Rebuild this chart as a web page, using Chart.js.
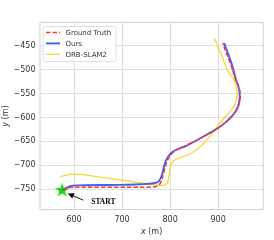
<!DOCTYPE html>
<html>
<head>
<meta charset="utf-8">
<script src="https://cdn.jsdelivr.net/npm/chart.js@4/dist/chart.umd.min.js"></script>
<style>
  html, body { margin: 0; padding: 0; background: #fff; }
  #wrap { width: 274px; height: 240px; }
</style>
</head>
<body>
<div id="wrap"><canvas id="traj"></canvas></div>
<script>
// trajectory points, [x, y] in metres
const groundTruth = [
  [575.7, -751.5], [591.7, -746.2], [654, -745.8], [758, -745.2], [772.6, -743.1],
  [780.9, -734.8], [787.1, -713.9], [793.3, -693], [799.6, -680.4], [810, -670],
  [830.8, -659.5], [862, -643.9], [899.4, -622.6], [918.1, -607.4], [932.6, -592.7],
  [943, -574], [946.2, -555.1], [943, -536.3], [934.7, -515.4], [924.3, -484.1],
  [916, -463.2], [909.8, -445]
];
const ours = [
  [575.7, -751.5], [591.7, -743.1], [612.5, -741.6], [695.6, -740.6], [737.2, -739.3],
  [768.4, -736.8], [776.7, -732.7], [783, -720.1], [789.2, -695.1], [795.4, -682.5],
  [803.7, -673.1], [816.2, -665.8], [830.8, -660.6], [845.3, -653.3], [862, -643.9],
  [878.6, -634.6], [899.4, -622.6], [917.5, -608.8], [931.2, -594.8], [941.6, -577.4],
  [945.1, -557.2], [943, -538.4], [936.8, -519.6], [927.9, -486.8], [920.2, -465.3],
  [912.5, -445]
];
const orbSlam = [
  [570.9, -723.3], [600, -718], [654, -724.3], [730.4, -735.4], [757.7, -738.9],
  [778.8, -741.6], [789.2, -741], [794.4, -736.8], [797.5, -722.2], [801.7, -699.2],
  [806.5, -691.2], [816.2, -685.7], [830.8, -680.4], [844.7, -674.2], [862, -661.6],
  [876.5, -647], [893.1, -626.1], [910.4, -603.8], [927.9, -584.3], [938.3, -563.4],
  [938.9, -542.6], [933.2, -521.7], [920.8, -504.3], [907.1, -469.5], [891.7, -434.6]
];
const startPoint = [575, -751];
const seriesNames = ['Ground Truth', 'Ours', 'ORB-SLAM2'];
const xTicks = [600, 700, 800, 900];
const yTicks = [-450, -500, -550, -600, -650, -700, -750];
const startLabel = 'START';
const startLabelAt = [661, -776];
const arrowFrom = [619, -772.5];
const arrowTo = [587, -758.5];

const tickFont = { family: 'DejaVu Sans', size: 8 };
const ink = '#333333';

// green star marker
const star = document.createElement('canvas');
star.width = 16; star.height = 16;
(function () {
  const c = star.getContext('2d');
  c.beginPath();
  for (let i = 0; i < 10; i++) {
    const r = i % 2 === 0 ? 7.5 : 3;
    const a = -Math.PI / 2 + i * Math.PI / 5;
    c.lineTo(8 + r * Math.cos(a), 8.5 + r * Math.sin(a));
  }
  c.closePath();
  c.fillStyle = '#11dd11';
  c.fill();
})();

const pts = arr => arr.map(p => ({ x: p[0], y: p[1] }));
const minus = v => String(v).replace('-', '\u2212');

const extras = {
  id: 'extras',
  beforeDatasetsDraw(chart) {
    const { ctx, chartArea: a } = chart;
    ctx.save();
    ctx.strokeStyle = '#cfcfcf';
    ctx.lineWidth = 1;
    ctx.strokeRect(a.left + 0.5, a.top + 0.5, a.width - 1, a.height - 1);
    ctx.restore();
  },
  afterDatasetsDraw(chart) {
    const { ctx, chartArea: a, scales } = chart;
    const xs = scales.x, ys = scales.y;
    ctx.save();

    // START annotation
    const tx = xs.getPixelForValue(arrowFrom[0]), ty = ys.getPixelForValue(arrowFrom[1]);
    const hx = xs.getPixelForValue(arrowTo[0]), hy = ys.getPixelForValue(arrowTo[1]);
    const ang = Math.atan2(hy - ty, hx - tx);
    ctx.strokeStyle = '#000';
    ctx.fillStyle = '#000';
    ctx.lineWidth = 0.9;
    ctx.beginPath();
    ctx.moveTo(tx, ty);
    ctx.lineTo(hx - 4 * Math.cos(ang), hy - 4 * Math.sin(ang));
    ctx.stroke();
    ctx.beginPath();
    ctx.moveTo(hx, hy);
    ctx.lineTo(hx - 6 * Math.cos(ang) + 2.8 * Math.sin(ang), hy - 6 * Math.sin(ang) - 2.8 * Math.cos(ang));
    ctx.lineTo(hx - 6 * Math.cos(ang) - 2.8 * Math.sin(ang), hy - 6 * Math.sin(ang) + 2.8 * Math.cos(ang));
    ctx.closePath();
    ctx.fill();
    ctx.font = 'bold 7.5px "Liberation Serif"';
    ctx.textAlign = 'center';
    ctx.textBaseline = 'middle';
    ctx.fillText(startLabel, xs.getPixelForValue(startLabelAt[0]), ys.getPixelForValue(startLabelAt[1]));

    // legend box, top left inside the plot
    const lx = a.left + 3, ly = a.top + 4, lw = 73, lh = 35;
    ctx.fillStyle = 'rgba(255,255,255,0.85)';
    ctx.strokeStyle = '#d4d4d4';
    ctx.lineWidth = 0.8;
    ctx.beginPath();
    ctx.roundRect(lx + 0.5, ly + 0.5, lw, lh, 2);
    ctx.fill();
    ctx.stroke();
    ctx.font = '7px "DejaVu Sans"';
    ctx.textAlign = 'left';
    chart.data.datasets.slice(0, 3).forEach((ds, i) => {
      const ry = ly + 6.5 + i * 10.9;
      ctx.strokeStyle = ds.borderColor;
      ctx.lineWidth = ds.borderWidth;
      ctx.setLineDash(ds.borderDash || []);
      ctx.beginPath();
      ctx.moveTo(lx + 3.5, ry);
      ctx.lineTo(lx + 17.5, ry);
      ctx.stroke();
      ctx.setLineDash([]);
      ctx.fillStyle = ink;
      ctx.fillText(ds.label, lx + 23, ry + 0.5);
    });

    // axis titles: italic symbol + plain unit
    const titleFont = '8px "DejaVu Sans"';
    const italFont = 'italic 8px "DejaVu Sans"';
    ctx.fillStyle = ink;
    ctx.textBaseline = 'middle';
    const drawTitle = (sym, cx, cy) => {
      ctx.font = italFont;
      const w1 = ctx.measureText(sym).width;
      ctx.font = titleFont;
      const w2 = ctx.measureText(' (m)').width;
      const x0 = cx - (w1 + w2) / 2;
      ctx.textAlign = 'left';
      ctx.font = italFont;
      ctx.fillText(sym, x0, cy);
      ctx.font = titleFont;
      ctx.fillText(' (m)', x0 + w1, cy);
    };
    drawTitle('x', (a.left + a.right) / 2, 231.5);
    ctx.save();
    ctx.translate(5.5, (a.top + a.bottom) / 2);
    ctx.rotate(-Math.PI / 2);
    drawTitle('y', 0, 0);
    ctx.restore();

    ctx.restore();
  }
};

new Chart(document.getElementById('traj'), {
  type: 'scatter',
  data: {
    datasets: [
      {
        label: seriesNames[0], data: pts(groundTruth), showLine: true,
        borderColor: '#f23a3a', borderWidth: 1.5, borderDash: [4.5, 2],
        pointRadius: 0, tension: 0.4
      },
      {
        label: seriesNames[1], data: pts(ours), showLine: true,
        borderColor: 'rgba(35,70,235,0.85)', borderWidth: 1.9,
        pointRadius: 0, tension: 0.4
      },
      {
        label: seriesNames[2], data: pts(orbSlam), showLine: true,
        borderColor: 'rgba(245,212,25,0.9)', borderWidth: 1.3,
        pointRadius: 0, tension: 0.4
      },
      {
        label: 'start', data: pts([startPoint]),
        pointStyle: star, pointRadius: 8
      }
    ]
  },
  options: {
    responsive: true,
    maintainAspectRatio: false,
    animation: false,
    events: [],
    layout: { padding: { left: 0, top: 22, right: 10.3, bottom: 0 } },
    plugins: { legend: { display: false }, tooltip: { enabled: false } },
    scales: {
      x: {
        min: 528, max: 995,
        afterBuildTicks: s => { s.ticks = xTicks.map(v => ({ value: v })); },
        afterFit: s => { s.height = 30; },
        grid: { color: '#dedede', lineWidth: 1, drawTicks: false },
        border: { display: false },
        ticks: { font: tickFont, color: ink, padding: 5, maxRotation: 0, callback: v => minus(v) }
      },
      y: {
        min: -793, max: -401,
        afterBuildTicks: s => { s.ticks = yTicks.map(v => ({ value: v })); },
        afterFit: s => { s.width = 39.5; },
        grid: { color: '#dedede', lineWidth: 1, drawTicks: false },
        border: { display: false },
        ticks: { font: tickFont, color: ink, padding: 4, callback: v => minus(v) }
      }
    }
  },
  plugins: [extras]
});
</script>
</body>
</html>
